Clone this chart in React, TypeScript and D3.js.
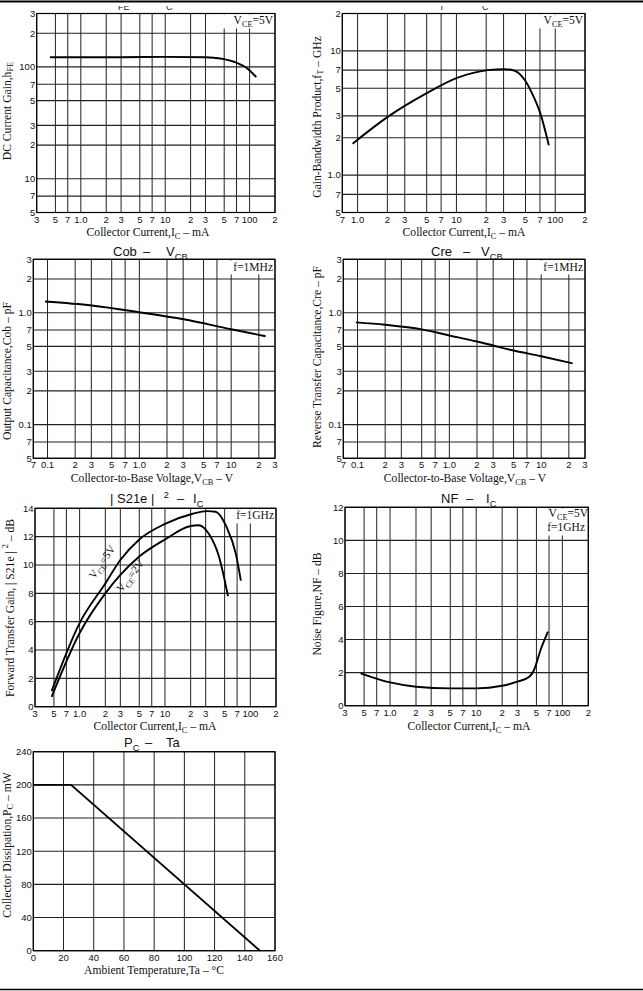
import React from 'react';
import * as d3 from 'd3';

// ---------------- data ----------------
const hfeIc = [0.43, 1, 3, 10, 30, 45, 70, 94, 120];
const hfeVal = [122, 122, 122, 123, 122, 119, 109, 97, 81];

const ftIc = [0.89, 2.0, 4.96, 10, 20.8, 30.8, 39, 49.3, 57.6, 70.9, 86.1];
const ftVal = [1.79, 2.93, 4.55, 6.04, 7.0, 7.13, 6.9, 5.8, 4.64, 3.11, 1.74];

const cobV = [0.094, 0.304, 1, 3.04, 10, 23.7];
const cobC = [1.26, 1.16, 1.01, 0.873, 0.711, 0.616];

const creV = [0.096, 0.2, 0.5, 1, 2, 3, 5, 10, 22];
const creC = [0.819, 0.78, 0.71, 0.626, 0.553, 0.509, 0.459, 0.408, 0.353];

const s21Ic5 = [0.47, 1, 2, 3, 5, 10, 20.7, 31.2, 39.2, 52.5, 67.6, 77.5];
const s21dB5 = [1.1, 5.9, 8.7, 10.35, 11.8, 12.9, 13.6, 13.8, 13.76, 12.7, 10.8, 8.9];
const s21Ic2 = [0.47, 1, 2, 3, 5, 10, 20, 24.8, 32.6, 42.9, 54.8];
const s21dB2 = [0.7, 5.2, 8.0, 9.3, 10.6, 11.8, 12.75, 12.8, 12.2, 10.6, 7.8];

const nfIc = [0.455, 1, 2, 5, 10, 20, 30, 41.3, 46.9, 55.8, 68.1];
const nfVal = [1.96, 1.41, 1.15, 1.05, 1.05, 1.21, 1.45, 1.75, 2.16, 3.37, 4.48];

const pcTa = [0, 25, 150];
const pcVal = [200, 200, 0];

// tick values / labels
const icTicks = [0.3, 0.5, 0.7, 1, 2, 3, 5, 7, 10, 20, 30, 50, 70, 100, 200];
const icLabels = ['3', '5', '7', '1.0', '2', '3', '5', '7', '10', '2', '3', '5', '7', '100', '2'];
const hfeTicks = [5, 7, 10, 20, 30, 50, 70, 100, 200, 300];
const hfeLabels = ['5', '7', '10', '2', '3', '5', '7', '100', '2', '3'];
const ftIcTicks = [0.7, 1, 2, 3, 5, 7, 10, 20, 30, 50, 70, 100, 200];
const ftIcLabels = ['7', '1.0', '2', '3', '5', '7', '10', '2', '3', '5', '7', '100', '2'];
const ftTicks = [0.5, 0.7, 1, 2, 3, 5, 7, 10, 20];
const ftLabels = ['5', '7', '1.0', '2', '3', '5', '7', '10', '2'];
const vcbTicks = [0.07, 0.1, 0.2, 0.3, 0.5, 0.7, 1, 2, 3, 5, 7, 10, 20, 30];
const vcbLabels = ['7', '0.1', '2', '3', '5', '7', '1.0', '2', '3', '5', '7', '10', '2', '3'];
const capTicks = [0.05, 0.07, 0.1, 0.2, 0.3, 0.5, 0.7, 1, 2, 3];
const capLabels = ['5', '7', '0.1', '2', '3', '5', '7', '1.0', '2', '3'];
const s21Ticks = [0, 2, 4, 6, 8, 10, 12, 14];
const nfTicks = [0, 2, 4, 6, 8, 10, 12];
const taTicks = [0, 20, 40, 60, 80, 100, 120, 140, 160];
const pcTicks = [0, 40, 80, 120, 160, 200, 240];

// ---------------- helpers ----------------
const FONT_TICK = '"Liberation Sans", Arial, sans-serif';
const FONT_SERIF = '"Liberation Serif", "Times New Roman", serif';
const FONT_TITLE = '"Liberation Sans", Arial, sans-serif';

type Seg = { t: string; sub?: boolean; sup?: boolean };

function Rich(props: any) {
  const { segs, size, family, ...rest } = props;
  let prev = 0;
  return (
    <text fontSize={size} fontFamily={family} fill="#111" style={{ whiteSpace: 'pre' }} {...rest}>
      {segs.map((s: Seg, i: number) => {
        const shift = s.sub ? size * 0.3 : s.sup ? -size * 0.42 : 0;
        const dy = shift - prev;
        prev = shift;
        return (
          <tspan key={i} dy={dy} fontSize={s.sub || s.sup ? size * 0.72 : size}>
            {s.t}
          </tspan>
        );
      })}
    </text>
  );
}

type AxisSpec = { type: 'log' | 'lin'; domain: [number, number]; ticks: number[]; labels: string[] };
type Series = { x: number[]; y: number[] };
type Piece = { x: number; segs: Seg[] };
type Note = { segs: Seg[]; x: number; y: number };

const AX_SIZE = 11.6;
const NOTE_SIZE = 11.5;

function Chart(props: {
  L: number; R: number; T: number; B: number;
  xa: AxisSpec; ya: AxisSpec; series: Series[]; linear?: boolean;
  title?: Piece[]; titleY?: number;
  xTitle: Seg[]; xTitleX: number; xTitleY: number;
  yTitle: Seg[]; yTitleX: number; yTitleY: number;
  notes?: Note[]; noteBox?: [number, number, number, number];
  children?: any;
}) {
  const { L, R, T, B, xa, ya } = props;
  const xs: any = xa.type === 'log' ? d3.scaleLog().domain(xa.domain).range([L, R]) : d3.scaleLinear().domain(xa.domain).range([L, R]);
  const ys: any = ya.type === 'log' ? d3.scaleLog().domain(ya.domain).range([B, T]) : d3.scaleLinear().domain(ya.domain).range([B, T]);
  const line = d3
    .line<[number, number]>()
    .x((d) => xs(d[0]))
    .y((d) => ys(d[1]))
    .curve(props.linear ? d3.curveLinear : d3.curveMonotoneX);
  return (
    <g>
      {xa.ticks.map((v, i) => (
        <line key={'gx' + i} x1={xs(v)} x2={xs(v)} y1={T} y2={B} stroke="#222" strokeWidth={1} />
      ))}
      {ya.ticks.map((v, i) => (
        <line key={'gy' + i} x1={L} x2={R} y1={ys(v)} y2={ys(v)} stroke="#222" strokeWidth={1.1} />
      ))}
      <rect x={L} y={T} width={R - L} height={B - T} fill="none" stroke="#000" strokeWidth={1.2} />
      {props.noteBox && (
        <rect x={props.noteBox[0]} y={props.noteBox[1]} width={props.noteBox[2]} height={props.noteBox[3]} fill="#fff" />
      )}
      {props.series.map((s, i) => (
        <path key={'s' + i} d={line(s.x.map((x, j) => [x, s.y[j]]) as [number, number][]) || ''} fill="none" stroke="#000" strokeWidth={1.9} />
      ))}
      {xa.ticks.map((v, i) => (
        <text key={'lx' + i} x={xs(v)} y={B + 10} fontSize={9.5} fontFamily={FONT_TICK} textAnchor="middle" fill="#111">
          {xa.labels[i]}
        </text>
      ))}
      {ya.ticks.map((v, i) => (
        <text key={'ly' + i} x={L - 1.5} y={ys(v)} dy="0.35em" fontSize={9.5} fontFamily={FONT_TICK} textAnchor="end" fill="#111">
          {ya.labels[i]}
        </text>
      ))}
      {props.title &&
        props.title.map((p, i) => (
          <Rich key={'t' + i} segs={p.segs} size={13} family={FONT_TITLE} x={p.x} y={props.titleY} />
        ))}
      <Rich segs={props.xTitle} size={AX_SIZE} family={FONT_SERIF} x={props.xTitleX} y={props.xTitleY} textAnchor="middle" />
      <Rich
        segs={props.yTitle}
        size={AX_SIZE}
        family={FONT_SERIF}
        transform={`translate(${props.yTitleX},${props.yTitleY}) rotate(-90)`}
        textAnchor="middle"
        dominantBaseline="middle"
      />
      {props.notes &&
        props.notes.map((n, i) => (
          <Rich key={'n' + i} segs={n.segs} size={NOTE_SIZE} family={FONT_SERIF} x={n.x} y={n.y} textAnchor="end" />
        ))}
      {props.children}
    </g>
  );
}

const vce5: Seg[] = [{ t: 'V' }, { t: 'CE', sub: true }, { t: '=5V' }];
const icTitle: Seg[] = [{ t: 'Collector Current,I' }, { t: 'C', sub: true }, { t: ' – mA' }];
const vcbTitle: Seg[] = [{ t: 'Collector-to-Base Voltage,V' }, { t: 'CB', sub: true }, { t: ' – V' }];

export default function App() {
  return (
    <svg
      width={643}
      height={991}
      viewBox="0 0 643 991"
      style={{ position: 'absolute', left: 0, top: 0, background: '#fff' }}
    >
      <defs>
        <clipPath id="topclip">
          <rect x={0} y={6} width={643} height={10} />
        </clipPath>
      </defs>
      <rect x={0} y={0} width={643} height={991} fill="#fff" />
      {/* page rules */}
      <line x1={0} x2={643} y1={1.5} y2={1.5} stroke="#000" strokeWidth={2} />
      <line x1={0} x2={643} y1={989.5} y2={989.5} stroke="#000" strokeWidth={1.5} />

      {/* cut-off titles at the top */}
      <g clipPath="url(#topclip)" fontFamily={FONT_TITLE} fontSize={9} fill="#222">
        <text x={118} y={9.5}>FE</text>
        <text x={166} y={9.5}>C</text>
        <text x={439} y={9.5}>T</text>
        <text x={482} y={9.5}>C</text>
      </g>

      {/* hFE - IC */}
      <Chart
        L={36.7} R={275} T={13.5} B={212.5}
        xa={{ type: 'log', domain: [0.3, 200], ticks: icTicks, labels: icLabels }}
        ya={{ type: 'log', domain: [5, 300], ticks: hfeTicks, labels: hfeLabels }}
        series={[{ x: hfeIc, y: hfeVal }]}
        xTitle={icTitle} xTitleX={148} xTitleY={235.5}
        yTitle={[{ t: 'DC Current Gain,h' }, { t: 'FE', sub: true }]} yTitleX={8} yTitleY={111}
        noteBox={[222, 14.5, 52, 14]}
        notes={[{ segs: vce5, x: 273, y: 24 }]}
      />

      {/* fT - IC */}
      <Chart
        L={342.3} R={585} T={13.5} B={212.5}
        xa={{ type: 'log', domain: [0.7, 200], ticks: ftIcTicks, labels: ftIcLabels }}
        ya={{ type: 'log', domain: [0.5, 20], ticks: ftTicks, labels: ftLabels }}
        series={[{ x: ftIc, y: ftVal }]}
        xTitle={icTitle} xTitleX={464} xTitleY={235.5}
        yTitle={[{ t: 'Gain-Bandwidth Product,f' }, { t: 'T', sub: true }, { t: ' – GHz' }]} yTitleX={318} yTitleY={117}
        noteBox={[533, 14.5, 51, 14]}
        notes={[{ segs: vce5, x: 583, y: 24 }]}
      />

      {/* Cob - VCB */}
      <Chart
        L={33.3} R={275} T={259.3} B={458.3}
        xa={{ type: 'log', domain: [0.07, 30], ticks: vcbTicks, labels: vcbLabels }}
        ya={{ type: 'log', domain: [0.05, 3], ticks: capTicks, labels: capLabels }}
        series={[{ x: cobV, y: cobC }]}
        title={[
          { x: 113, segs: [{ t: 'Cob' }] },
          { x: 143, segs: [{ t: '–' }] },
          { x: 166, segs: [{ t: 'V' }, { t: 'CB', sub: true }] },
        ]}
        titleY={256}
        xTitle={vcbTitle} xTitleX={152} xTitleY={482}
        yTitle={[{ t: 'Output Capacitance,Cob – pF' }]} yTitleX={7.5} yTitleY={371}
        noteBox={[226, 260.5, 48, 14]}
        notes={[{ segs: [{ t: 'f=1MHz' }], x: 273, y: 271 }]}
      />

      {/* Cre - VCB */}
      <Chart
        L={343.3} R={585} T={259.3} B={458.3}
        xa={{ type: 'log', domain: [0.07, 30], ticks: vcbTicks, labels: vcbLabels }}
        ya={{ type: 'log', domain: [0.05, 3], ticks: capTicks, labels: capLabels }}
        series={[{ x: creV, y: creC }]}
        title={[
          { x: 431, segs: [{ t: 'Cre' }] },
          { x: 463, segs: [{ t: '–' }] },
          { x: 481, segs: [{ t: 'V' }, { t: 'CB', sub: true }] },
        ]}
        titleY={256}
        xTitle={vcbTitle} xTitleX={465} xTitleY={482}
        yTitle={[{ t: 'Reverse Transfer Capacitance,Cre – pF' }]} yTitleX={318} yTitleY={357}
        noteBox={[536, 260.5, 48, 14]}
        notes={[{ segs: [{ t: 'f=1MHz' }], x: 583, y: 271 }]}
      />

      {/* |S21e|^2 - IC */}
      <Chart
        L={35} R={276} T={508.3} B={706.7}
        xa={{ type: 'log', domain: [0.3, 200], ticks: icTicks, labels: icLabels }}
        ya={{ type: 'lin', domain: [0, 14], ticks: s21Ticks, labels: s21Ticks.map(String) }}
        series={[{ x: s21Ic5, y: s21dB5 }, { x: s21Ic2, y: s21dB2 }]}
        title={[
          { x: 110, segs: [{ t: '| S21e |' }] },
          { x: 160, segs: [{ t: ' ' }, { t: '2', sup: true }] },
          { x: 177, segs: [{ t: '–' }] },
          { x: 193, segs: [{ t: 'I' }, { t: 'C', sub: true }] },
        ]}
        titleY={503}
        xTitle={icTitle} xTitleX={155} xTitleY={730}
        yTitle={[{ t: 'Forward Transfer Gain, | S21e | ' }, { t: '2', sup: true }, { t: ' – dB' }]} yTitleX={10.5} yTitleY={608}
        noteBox={[231, 509.5, 44, 14]}
        notes={[{ segs: [{ t: 'f=1GHz' }], x: 274, y: 519 }]}
      >
        <Rich segs={vce5} size={11} family={FONT_SERIF} x={0} y={0} textAnchor="middle"
          transform="translate(105,564) rotate(-55)" />
        <Rich segs={[{ t: 'V' }, { t: 'CE', sub: true }, { t: '=2V' }]} size={11} family={FONT_SERIF} x={0} y={0}
          textAnchor="middle" transform="translate(133,578) rotate(-52)" />
      </Chart>

      {/* NF - IC */}
      <Chart
        L={345} R={588.3} T={507.3} B={705.7}
        xa={{ type: 'log', domain: [0.3, 200], ticks: icTicks, labels: icLabels }}
        ya={{ type: 'lin', domain: [0, 12], ticks: nfTicks, labels: nfTicks.map(String) }}
        series={[{ x: nfIc, y: nfVal }]}
        title={[
          { x: 441, segs: [{ t: 'NF' }] },
          { x: 466, segs: [{ t: '–' }] },
          { x: 486, segs: [{ t: 'I' }, { t: 'C', sub: true }] },
        ]}
        titleY={503}
        xTitle={icTitle} xTitleX={469} xTitleY={729.5}
        yTitle={[{ t: 'Noise Figure,NF – dB' }]} yTitleX={318} yTitleY={604}
        noteBox={[540, 508.5, 47, 27]}
        notes={[
          { segs: vce5, x: 588, y: 517 },
          { segs: [{ t: 'f=1GHz' }], x: 585, y: 531 },
        ]}
      />

      {/* PC - Ta */}
      <Chart
        L={33.3} R={275} T={751.7} B={950.7}
        xa={{ type: 'lin', domain: [0, 160], ticks: taTicks, labels: taTicks.map(String) }}
        ya={{ type: 'lin', domain: [0, 240], ticks: pcTicks, labels: pcTicks.map(String) }}
        series={[{ x: pcTa, y: pcVal }]}
        linear
        title={[
          { x: 124, segs: [{ t: 'P' }, { t: 'C', sub: true }] },
          { x: 145, segs: [{ t: '–' }] },
          { x: 166, segs: [{ t: 'Ta' }] },
        ]}
        titleY={747}
        xTitle={[{ t: 'Ambient Temperature,Ta – °C' }]} xTitleX={154} xTitleY={974}
        yTitle={[{ t: 'Collector Dissipation,P' }, { t: 'C', sub: true }, { t: ' – mW' }]} yTitleX={8} yTitleY={845}
      />
    </svg>
  );
}
